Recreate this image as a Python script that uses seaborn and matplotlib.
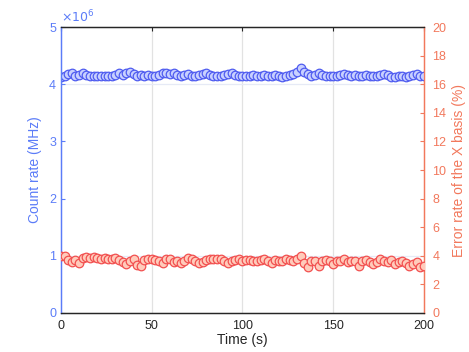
import numpy as np
import pandas as pd
import matplotlib
matplotlib.use("Agg")
import matplotlib.pyplot as plt
import seaborn as sns

# time axis (s), one point every 2 s
time_s = list(range(0, 201, 2))

# count rate in units of 1e6 (MHz axis shows x10^6)
count_rate = [
    4.13, 4.15, 4.18, 4.19, 4.15, 4.17, 4.20, 4.16, 4.15, 4.15, 4.15,
    4.15, 4.15, 4.14, 4.15, 4.17, 4.19, 4.16, 4.20, 4.21, 4.18, 4.15,
    4.16, 4.15, 4.16, 4.14, 4.15, 4.17, 4.19, 4.20, 4.18, 4.20, 4.17,
    4.15, 4.16, 4.18, 4.15, 4.14, 4.16, 4.18, 4.20, 4.17, 4.15, 4.15,
    4.15, 4.16, 4.18, 4.19, 4.16, 4.15, 4.15, 4.15, 4.15, 4.16, 4.15,
    4.14, 4.17, 4.15, 4.14, 4.16, 4.15, 4.13, 4.15, 4.16, 4.18, 4.22,
    4.28, 4.22,
    4.18, 4.14, 4.16, 4.19, 4.16, 4.15, 4.15, 4.15, 4.14, 4.16, 4.18,
    4.16, 4.15, 4.17, 4.15, 4.15, 4.16, 4.15, 4.15, 4.14, 4.17, 4.18,
    4.16, 4.13, 4.12, 4.14, 4.15, 4.13, 4.14, 4.16, 4.18, 4.15, 4.14,
]

# error rate of X basis (%)
error_rate = [
    3.95, 3.95, 3.70, 3.55, 3.70, 3.50, 3.85, 3.90, 3.85, 3.90, 3.85,
    3.80, 3.85, 3.75, 3.80, 3.85, 3.70, 3.55, 3.45, 3.60, 3.80, 3.35,
    3.30, 3.70, 3.75, 3.80, 3.70, 3.60, 3.50, 3.75, 3.80, 3.55, 3.65,
    3.50, 3.60, 3.85, 3.75, 3.60, 3.50, 3.55, 3.70, 3.75, 3.80, 3.80,
    3.75, 3.60, 3.50, 3.60, 3.70, 3.75, 3.65, 3.70, 3.70, 3.65, 3.60,
    3.70, 3.75, 3.60, 3.50, 3.70, 3.65, 3.60, 3.75, 3.70, 3.60, 3.75,
    3.95, 3.50,
    3.20, 3.60, 3.65, 3.30, 3.65, 3.70, 3.60, 3.40, 3.65, 3.60, 3.75,
    3.55, 3.65, 3.60, 3.30, 3.60, 3.70, 3.55, 3.40, 3.55, 3.75, 3.60,
    3.55, 3.70, 3.40, 3.55, 3.65, 3.50, 3.25, 3.45, 3.55, 3.20, 3.30,
]

df = pd.DataFrame({"t": time_s, "count": count_rate, "err": error_rate})

blue = "#5b7cf8"
blue_edge = "#4f5cf0"
blue_face = "#c8d0ff"
red = "#f2785c"
red_edge = "#f25050"
red_face = "#ffcbbb"

sns.set_style("white")
plt.rcParams["font.family"] = ["Liberation Sans", "DejaVu Sans"]
plt.rcParams["font.size"] = 9

fig = plt.figure(figsize=(4.69, 3.52), dpi=100)
ax = fig.add_axes([0.130, 0.111, 0.774, 0.812])
ax2 = ax.twinx()

# light grid
for xv in [50, 100, 150]:
    ax.axvline(xv, color="#e2e2e2", lw=0.9, zorder=0)
for yv in [1, 4]:
    ax.axhline(yv, color="#e6eaf6", lw=0.9, zorder=0)

sns.scatterplot(data=df, x="t", y="count", ax=ax, s=38, color=blue_face,
                edgecolor=blue_edge, linewidth=0.9, zorder=3)
sns.scatterplot(data=df, x="t", y="err", ax=ax2, s=38, color=red_face,
                edgecolor=red_edge, linewidth=0.9, zorder=3)

ax.set_xlim(0, 200)
ax.set_ylim(0, 5)
ax2.set_ylim(0, 20)
ax.set_xticks([0, 50, 100, 150, 200])
ax.set_yticks(range(0, 6))
ax2.set_yticks(range(0, 21, 2))

ax.set_xlabel("Time (s)", fontsize=10, color="#262626", labelpad=1)
ax.set_ylabel("Count rate (MHz)", fontsize=10, color=blue, labelpad=5)
ax2.set_ylabel("Error rate of the X basis (%)", fontsize=10, color=red, labelpad=4)

ax.tick_params(axis="x", direction="in", length=3, colors="#262626", top=True, pad=5)
ax.tick_params(axis="y", direction="in", length=3, colors=blue)
ax2.tick_params(axis="y", direction="in", length=3, colors=red, pad=6)

ax.text(0.0, 1.005, r"$\times10^{6}$", transform=ax.transAxes, color=blue,
        fontsize=9, ha="left", va="bottom")

for a in (ax, ax2):
    a.spines["top"].set_color("#262626")
    a.spines["bottom"].set_color("#262626")
    a.spines["left"].set_color(blue)
    a.spines["right"].set_color(red)
    for s in a.spines.values():
        s.set_linewidth(0.9)

fig.savefig("out.png", dpi=100)
